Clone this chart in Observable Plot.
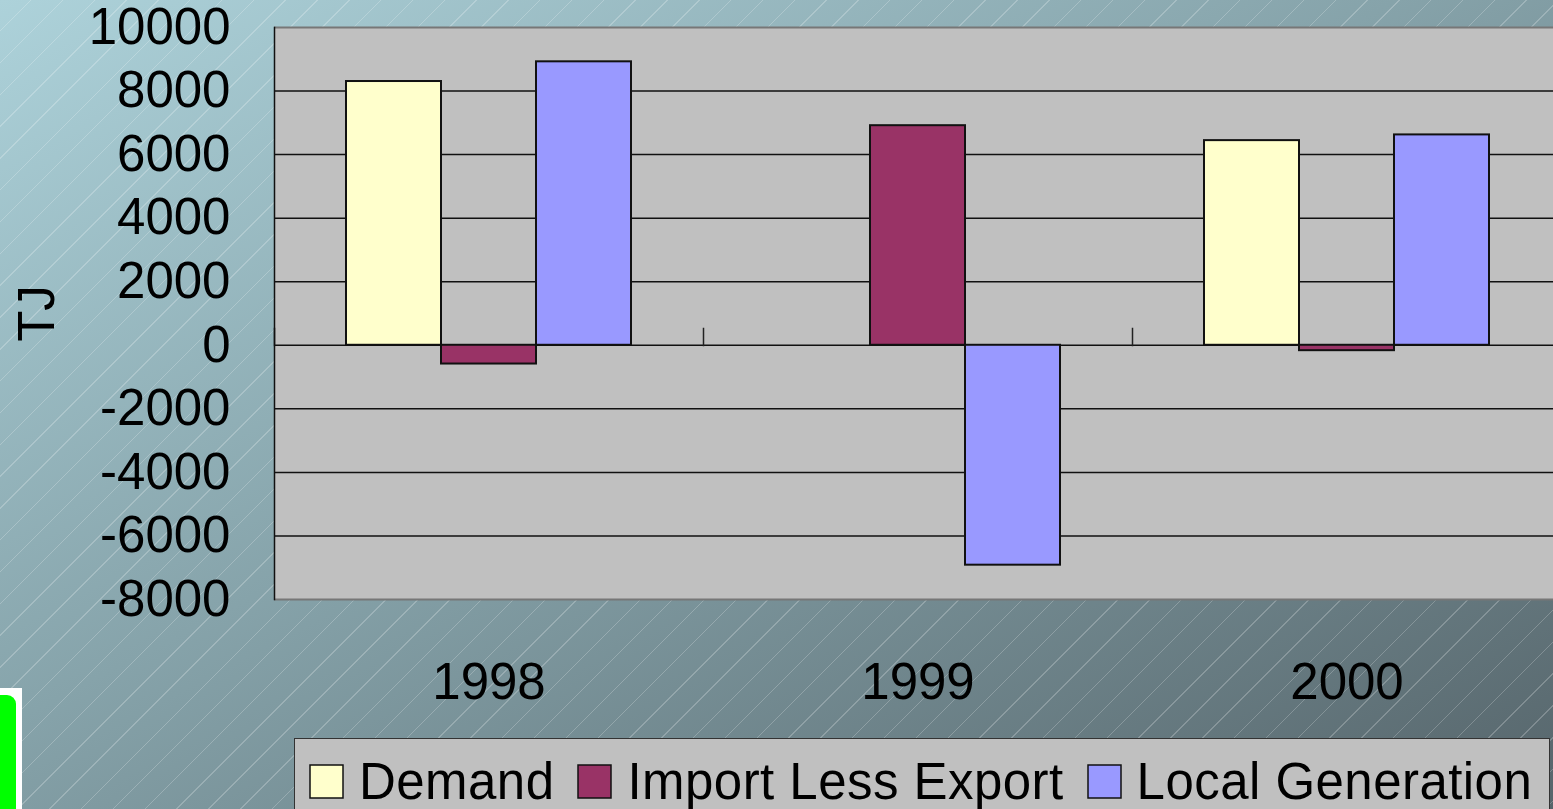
<!DOCTYPE html>
<html>
<head>
<meta charset="utf-8">
<script src="https://cdn.jsdelivr.net/npm/d3@7"></script>
<script src="https://cdn.jsdelivr.net/npm/@observablehq/plot@0.6"></script>
<style>
  html, body { margin: 0; padding: 0; }
  body {
    width: 1553px; height: 809px; overflow: hidden; position: relative;
    background:
      repeating-linear-gradient(135deg, rgba(255,255,255,0) 0px, rgba(255,255,255,0) 21.5px, rgba(255,255,255,0.22) 21.5px, rgba(255,255,255,0.22) 22.5px),
      linear-gradient(to bottom right, #add2da 0%, #86a3aa 45%, #56656b 100%);
    font-family: "Liberation Sans", Arial, sans-serif;
  }
  #chart { position: absolute; left: 0; top: 0; }
  #legendbox {
    position: absolute; left: 294px; top: 738px; width: 1256px; height: 86px;
    box-sizing: border-box; background: #c0c0c0; border: 1.5px solid #333;
    display: flex; align-items: center; padding-left: 15px; overflow: hidden;
  }
  .lg-swatches { font-family: "Liberation Sans", Arial, sans-serif !important; font-size: 51px !important; color: #000 !important; margin: 0 !important; min-height: 0 !important; letter-spacing: 0.45px; flex-wrap: nowrap !important; white-space: nowrap !important; width: max-content !important; flex: none !important; display: flex !important; align-items: center !important; }
  .lg-swatch { margin-right: 24px !important; white-space: nowrap !important; flex: none !important; }
  .lg-swatch > svg { margin-right: 16px !important; overflow: visible !important; flex: none !important; }
  .lg-swatch > svg rect { stroke: #111; stroke-width: 1.5px; }
  #green { position: absolute; left: 0; top: 688px; width: 22px; height: 121px; background: #fff; }
  #green div { position: absolute; left: 0; top: 7px; width: 16px; height: 114px; background: #00ff00; border-top-right-radius: 9px; }
</style>
</head>
<body>
<div id="chart"></div>
<div id="legendbox"></div>
<div id="green"><div></div></div>
<script>
const years = ["1998", "1999", "2000"];
const series = ["Demand", "Import Less Export", "Local Generation"];
const demand = [8300, 0, 6440];
const importLessExport = [-590, 6910, -170];
const localGeneration = [8920, -6920, 6620];
const colors = ["#ffffcc", "#993366", "#9999ff"];
const yTicks = [-8000, -6000, -4000, -2000, 0, 2000, 4000, 6000, 8000, 10000];
const yLabel = "TJ";

const seriesValues = [demand, importLessExport, localGeneration];
const rows = [];
years.forEach((yr, i) => {
  series.forEach((s, j) => rows.push({year: yr, series: s, value: seriesValues[j][i]}));
});

const innerGrid = yTicks.slice(1, -1);
const edgeGrid = [yTicks[0], yTicks[yTicks.length - 1]];

const chart = Plot.plot({
  width: 1561,
  height: 730,
  marginTop: 27,
  marginLeft: 274,
  marginRight: 0,
  marginBottom: 131,
  style: {background: "transparent", maxWidth: "none", overflow: "visible", fontFamily: "Liberation Sans, Arial, sans-serif", fontSize: "51px", color: "#000"},
  fx: {domain: years, padding: 0, label: null},
  x: {domain: series, paddingInner: 0, paddingOuter: 0.75, axis: null},
  y: {domain: [yTicks[0], yTicks[yTicks.length - 1]]},
  color: {domain: series, range: colors},
  marks: [
    Plot.frame({fill: "#c0c0c0", stroke: "none", shapeRendering: "crispEdges"}),
    Plot.ruleY(innerGrid, {stroke: "#111", strokeWidth: 1.5}),
    Plot.ruleY(edgeGrid, {stroke: "#777", strokeWidth: 2}),
    Plot.frame({anchor: "left", stroke: "#222", strokeWidth: 1.5, insetTop: 301, insetBottom: 254}),
    Plot.frame({facet: "super", anchor: "left", stroke: "#111", strokeWidth: 1.5}),
    Plot.barY(rows, {fx: "year", x: "series", y: "value", fill: "series", stroke: "#111", strokeWidth: 2}),
    Plot.axisY({ticks: yTicks, tickSize: 0, tickPadding: 44, tickFormat: d => String(d), label: yLabel, labelAnchor: "center", labelOffset: 257, labelArrow: "none", fontSize: 51}),
    Plot.axisFx({anchor: "bottom", tickSize: 0, tickPadding: 63, label: null, fontSize: 51})
  ]
});
document.getElementById("chart").append(chart);

const legend = Plot.legend({
  color: {type: "ordinal", domain: series, range: colors},
  legend: "swatches",
  swatchSize: 33,
  className: "lg"
});
document.getElementById("legendbox").append(legend);
</script>
</body>
</html>
